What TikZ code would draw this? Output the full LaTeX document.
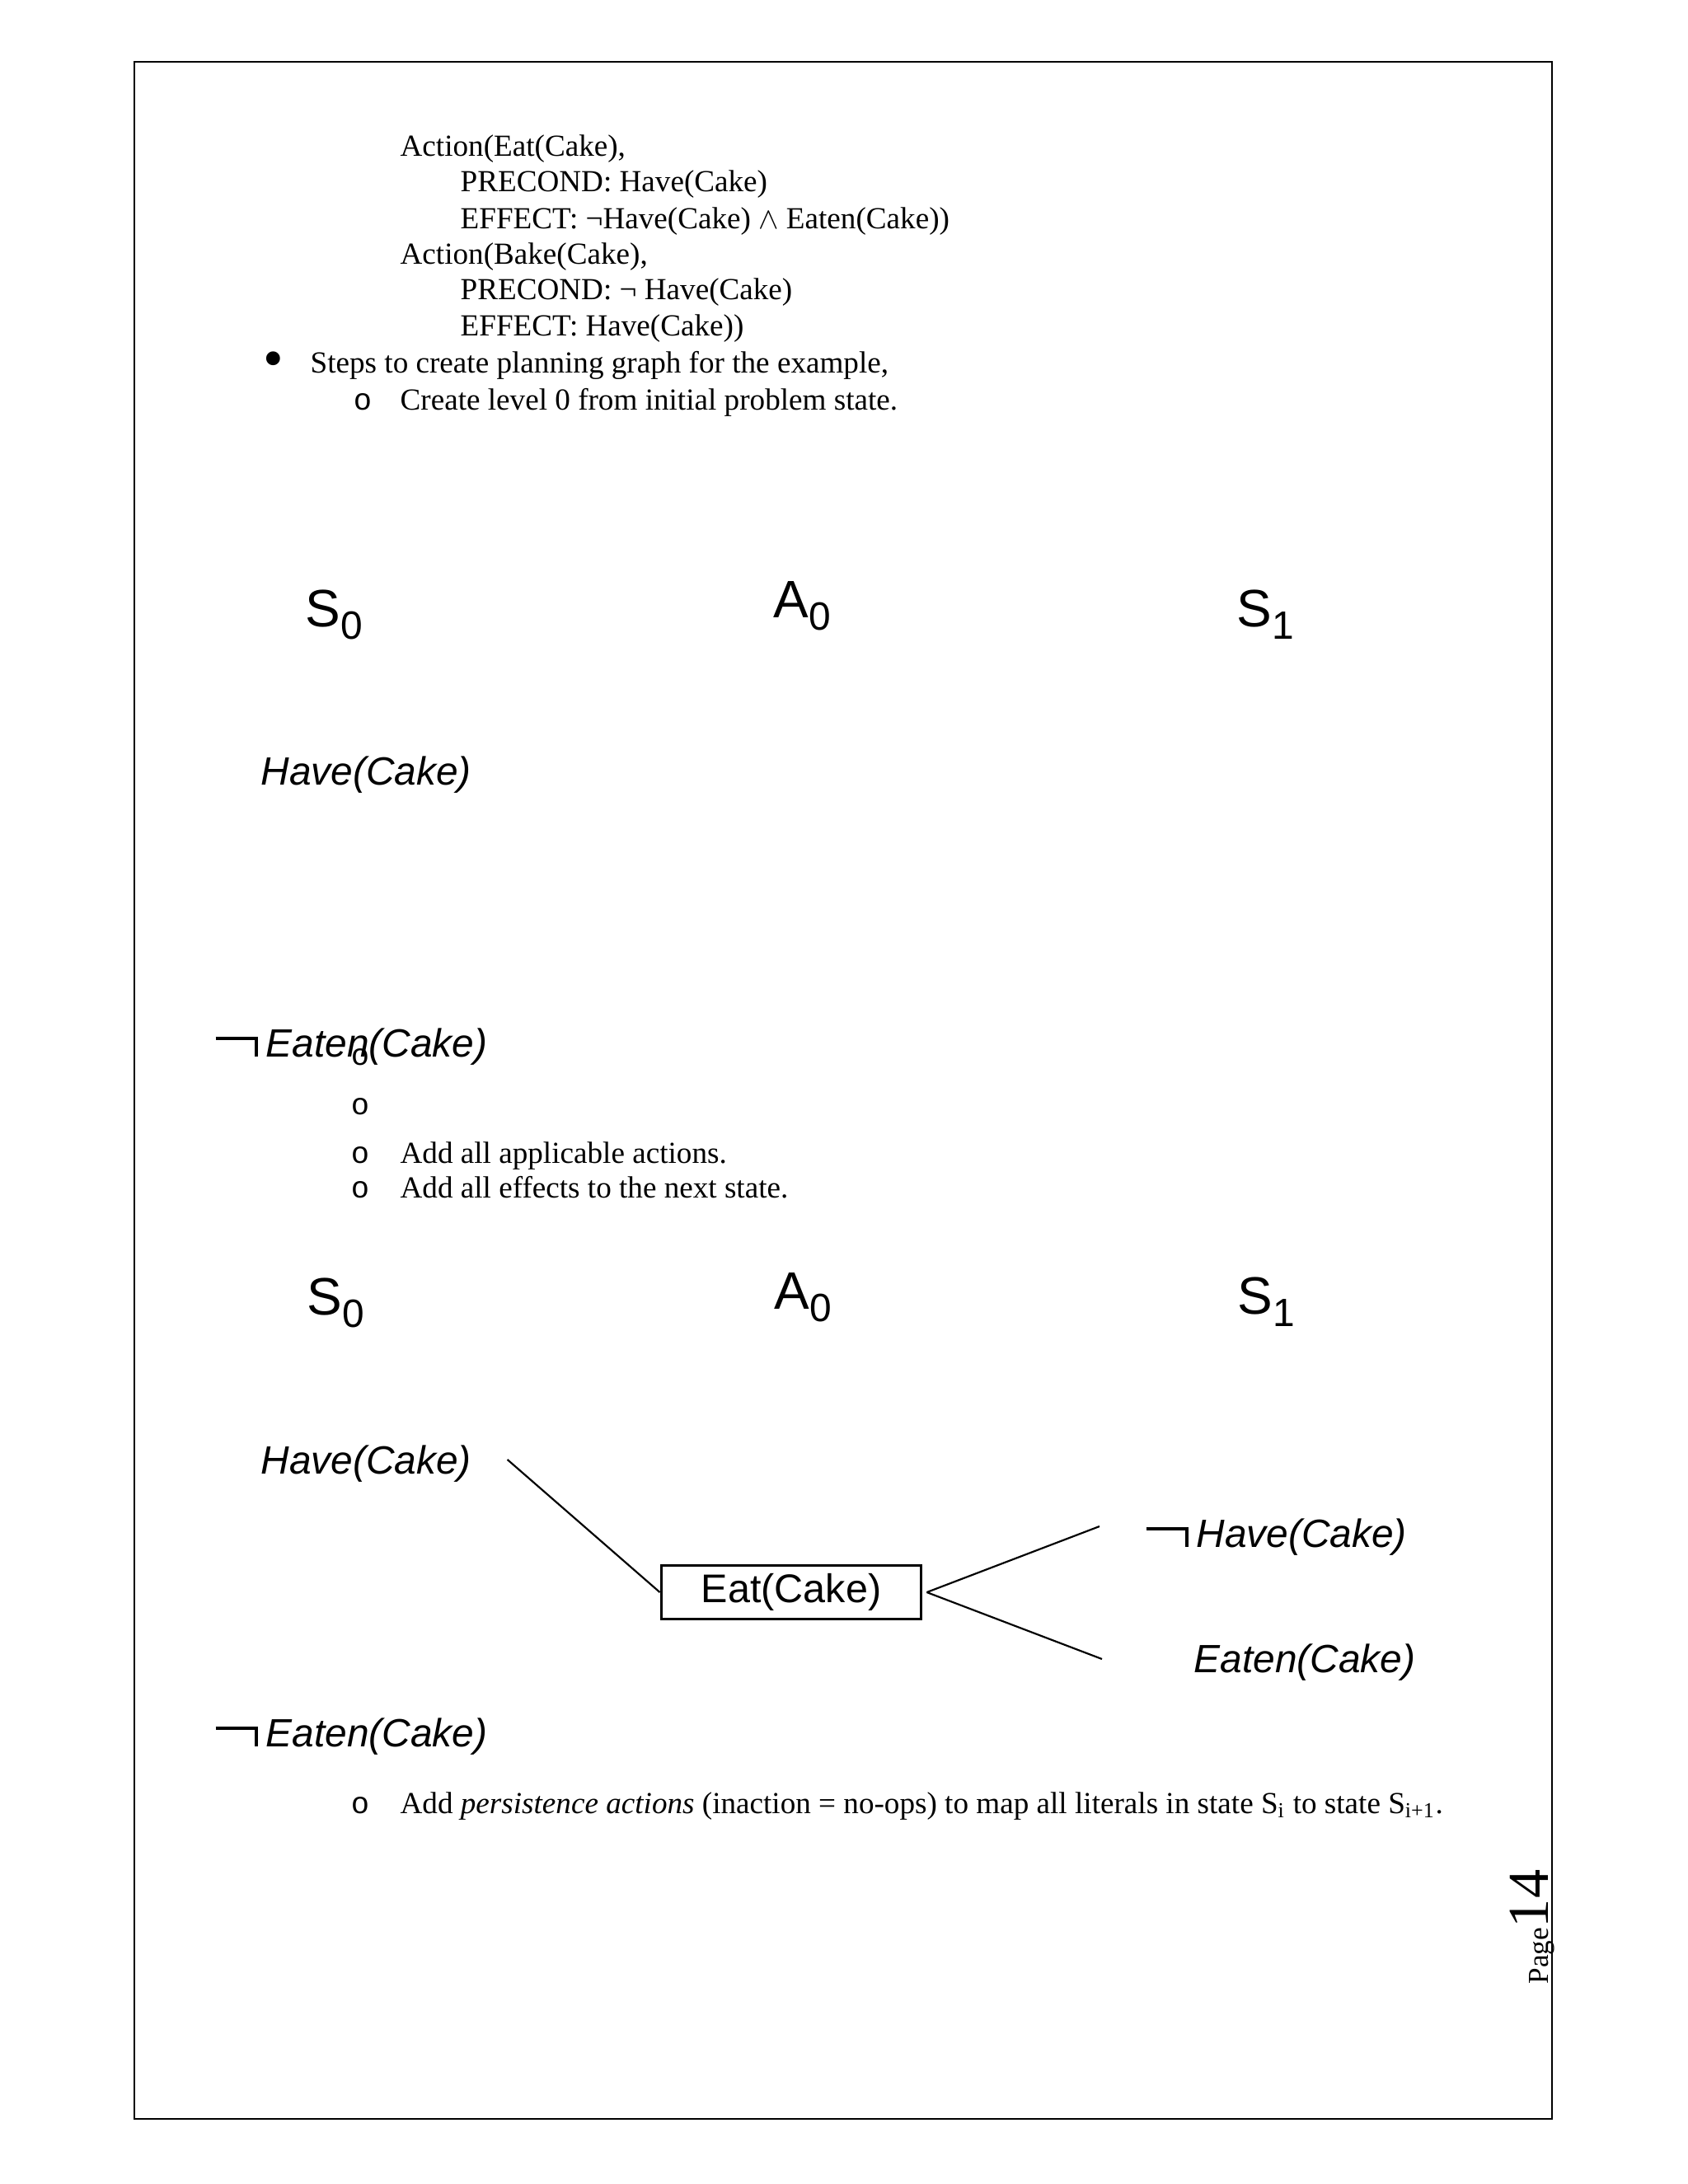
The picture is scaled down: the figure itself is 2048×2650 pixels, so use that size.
\documentclass[tikz,border=0pt]{standalone}
\usepackage{fontspec}
\setmainfont{Liberation Serif}
\newfontfamily\arialf{Liberation Sans}
\newfontfamily\courf{Liberation Mono}
\usetikzlibrary{calc}
\newcommand\negbar{\rule[6.0pt]{15.2pt}{1.2pt}\kern-1.2pt\rule{1.2pt}{7.2pt}\kern3pt}
\newcommand\lvsub[1]{\raisebox{-4.5pt}{\fontsize{14.3}{16}\selectfont #1}}
\tikzset{
  doc/.style={font=\fontsize{11.1}{13}\selectfont, anchor=base west, inner sep=0pt},
  marker/.style={font=\courf\fontsize{11.1}{13}\selectfont, anchor=base, inner sep=0pt},
  bulletmark/.style={font=\fontsize{21}{22}\selectfont, anchor=center, inner sep=0pt},
  lvl/.style={font=\arialf\fontsize{19.1}{22}\selectfont, anchor=base west, inner sep=0pt},
  lit/.style={font=\arialf\itshape\fontsize{14.3}{17}\selectfont, anchor=base west, inner sep=0pt},
  act/.style={draw, line width=0.9pt, font=\arialf\fontsize{14.5}{17}\selectfont,
    minimum width=94.4pt, minimum height=19.4pt, inner sep=0pt},
  edge/.style={line width=0.65pt},
  frame/.style={line width=0.8pt}
}
\begin{document}
\begin{tikzpicture}[x=0.29883pt, y=-0.29883pt]
\useasboundingbox (0,0) rectangle (2048,2650);
\draw[frame] (163,75) rectangle (1883,2571);

% top text
\node[doc] (t1) at (485,189) {Action(Eat(Cake),};
\node[doc] (t2) at (558,232) {PRECOND: Have(Cake)};
\node[doc] (t3) at (558,277) {EFFECT: ¬Have(Cake) $\wedge$ Eaten(Cake))};
\node[doc] (t4) at (485,320) {Action(Bake(Cake),};
\node[doc] (t5) at (558,363) {PRECOND: ¬ Have(Cake)};
\node[doc] (t6) at (558,407) {EFFECT: Have(Cake))};
\node[bulletmark] (b1) at (332,443) {•};
\node[doc] (t7) at (376,452) {Steps to create planning graph for the example,};
\node[marker] (m1) at (440,497) {o};
\node[doc] (t8) at (485,497) {Create level 0 from initial problem state.};

% diagram 1
\node[lvl] (s0a) at (370,760) {S\lvsub{0}};
\node[lvl] (a0a) at (938,749) {A\lvsub{0}};
\node[lvl] (s1a) at (1500,760) {S\lvsub{1}};
\node[lit] (hca) at (316,952) {Have(Cake)};
\node[lit] (nea) at (261,1282) {\negbar Eaten(Cake)};

% list markers and text
\node[marker] (m2) at (437,1292) {o};
\node[marker] (m3) at (437,1352) {o};
\node[marker] (m4) at (437,1411) {o};
\node[marker] (m5) at (437,1453) {o};
\node[doc] (t9) at (485,1411) {Add all applicable actions.};
\node[doc] (t10) at (485,1453) {Add all effects to the next state.};

% diagram 2
\node[lvl] (s0b) at (372,1595) {S\lvsub{0}};
\node[lvl] (a0b) at (939,1588) {A\lvsub{0}};
\node[lvl] (s1b) at (1501,1594) {S\lvsub{1}};
\node[lit] (hcb) at (316,1788) {Have(Cake)};
\node[act] (eat) at (960,1932) {Eat(Cake)};
\node[lit] (nhc) at (1390,1877) {\negbar Have(Cake)};
\node[lit] (etc) at (1448,2029) {Eaten(Cake)};
\node[lit] (neb) at (261,2119) {\negbar Eaten(Cake)};

\draw[edge] ($(hcb.base east)+(43,-17)$) -- (eat.west);
\draw[edge] ($(eat.east)+(5,0)$) -- ($(nhc.base west)+(-56,-25)$);
\draw[edge] ($(eat.east)+(5,0)$) -- ($(etc.base west)+(-111,-16)$);

% persistence
\node[marker] (m6) at (437,2200) {o};
\node[doc] (t11) at (485,2200) {Add \textit{persistence actions} (inaction = no-ops) to map all literals in state S\textsubscript{i} to state S\textsubscript{i+1}.};

% page number
\node[rotate=90, anchor=base west, inner sep=0pt] (pg) at (1878,2408) {{\fontsize{10.5}{12}\selectfont Page}{\fontsize{21}{24}\selectfont 14}};
\end{tikzpicture}
\end{document}
